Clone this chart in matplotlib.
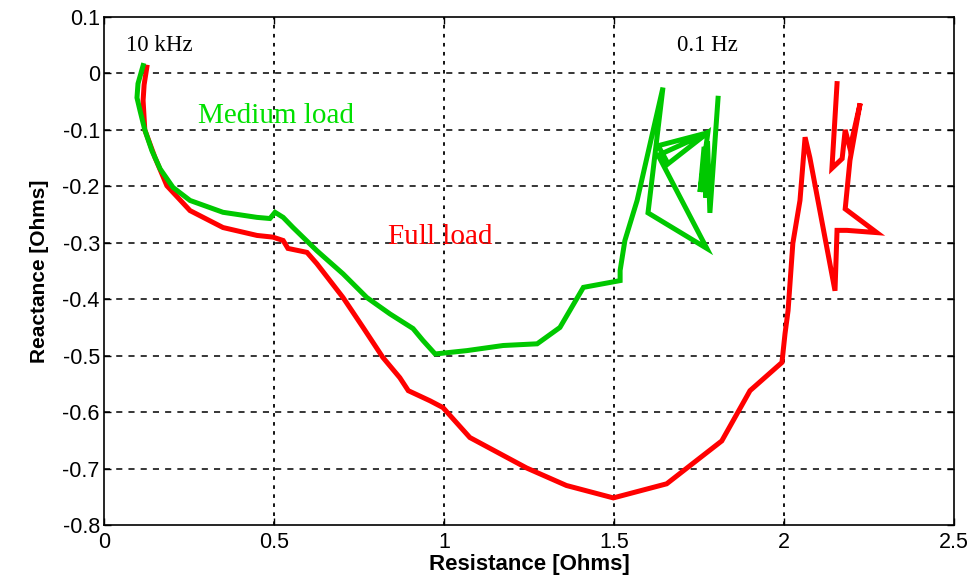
import matplotlib
matplotlib.use('Agg')
import matplotlib.pyplot as plt
import numpy as np

## Full load trace (Resistance, Reactance) from 10 kHz down to 0.1 Hz
fullR = [0.126, 0.118, 0.115, 0.12, 0.15, 0.185, 0.253, 0.35, 0.45, 0.497, 0.527,
         0.541, 0.597, 0.626, 0.703, 0.762, 0.82, 0.87, 0.895, 0.959, 0.997, 1.076,
         1.243, 1.36, 1.498, 1.655, 1.817, 1.9, 1.994, 2.003, 2.012, 2.026, 2.047,
         2.062, 2.076, 2.15, 2.156, 2.185, 2.273, 2.18, 2.194, 2.224, 2.194, 2.18,
         2.171, 2.141, 2.156]
fullX = [0.011, -0.02, -0.048, -0.10, -0.149, -0.199, -0.243, -0.273, -0.287, -0.29,
         -0.296, -0.31, -0.317, -0.337, -0.397, -0.45, -0.503, -0.539, -0.562, -0.58,
         -0.592, -0.645, -0.699, -0.73, -0.752, -0.727, -0.651, -0.562, -0.512, -0.461,
         -0.42, -0.301, -0.225, -0.113, -0.149, -0.385, -0.278, -0.278, -0.282, -0.24,
         -0.154, -0.053, -0.133, -0.10, -0.151, -0.168, -0.018]

## Medium load trace
medR = [0.115, 0.1, 0.097, 0.106, 0.12, 0.141, 0.165, 0.203, 0.253, 0.35, 0.45,
        0.488, 0.503, 0.527, 0.556, 0.626, 0.703, 0.773, 0.841, 0.909, 0.938, 0.974,
        1.068, 1.174, 1.274, 1.341, 1.41, 1.518, 1.518, 1.532, 1.568, 1.644, 1.6,
        1.773, 1.63, 1.776, 1.63, 1.659, 1.776, 1.753, 1.765, 1.77, 1.775, 1.782, 1.806]
medX = [0.014, -0.018, -0.043, -0.066, -0.10, -0.137, -0.169, -0.202, -0.225, -0.246,
        -0.255, -0.257, -0.246, -0.255, -0.273, -0.314, -0.355, -0.397, -0.426, -0.452,
        -0.473, -0.497, -0.491, -0.482, -0.479, -0.45, -0.379, -0.367, -0.349, -0.296,
        -0.225, -0.025, -0.247, -0.31, -0.145, -0.105, -0.128, -0.16, -0.105, -0.21,
        -0.13, -0.22, -0.12, -0.247, -0.044]

xTicks = [0, 0.5, 1, 1.5, 2, 2.5]
xTickLabels = ['0', '0.5', '1', '1.5', '2', '2.5']
yTicks = [0.1, 0, -0.1, -0.2, -0.3, -0.4, -0.5, -0.6, -0.7, -0.8]
yTickLabels = ['0.1', '0', '-0.1', '-0.2', '-0.3', '-0.4', '-0.5', '-0.6', '-0.7', '-0.8']

plt.rcParams['font.family'] = ['Liberation Sans', 'DejaVu Sans']

fig = plt.figure(figsize=(9.73, 5.77), dpi=100)
ax = fig.add_axes([104/973, 1-525/577, (954-104)/973, (525-17)/577])

ax.plot(fullR, fullX, color='#ff0000', lw=3.6, solid_joinstyle='miter', zorder=3)
ax.plot(medR, medX, color='#00c800', lw=3.6, solid_joinstyle='miter', zorder=4)

ax.set_xlim(0, 2.5)
ax.set_ylim(-0.8, 0.1)
ax.set_xticks(xTicks)
ax.set_xticklabels(xTickLabels)
ax.set_yticks(yTicks)
ax.set_yticklabels(yTickLabels)

## MATLAB style grid: dotted verticals, dashed horizontals
for xv in xTicks[1:-1]:
    ax.axvline(xv, color='black', lw=1.3, ls=(0, (2, 3)), zorder=1)
for yv in yTicks[1:-1]:
    ax.axhline(yv, color='black', lw=1.1, ls=(0, (4, 4)), zorder=1)

ax.tick_params(direction='in', length=5, top=True, right=True, labelsize=15.5, pad=3, width=1)
ax.tick_params(axis='x', pad=5)
for sp in ax.spines.values():
    sp.set_linewidth(1.2)

ax.set_xlabel('Resistance [Ohms]', fontsize=16, fontweight='bold', labelpad=1)
ax.set_ylabel('Reactance [Ohms]', fontsize=15, fontweight='bold', labelpad=10)

serif = ['Liberation Serif', 'DejaVu Serif']
ax.text(0.065, 0.05, '10 kHz', family=serif, fontsize=16.5, color='black', va='center')
ax.text(1.685, 0.05, '0.1 Hz', family=serif, fontsize=16.5, color='black', va='center')
ax.text(0.276, -0.076, 'Medium load', family=serif, fontsize=21, color='#00e000', va='center')
ax.text(0.835, -0.289, 'Full load', family=serif, fontsize=21, color='#ff0000', va='center')

fig.savefig('out.png', dpi=100)
